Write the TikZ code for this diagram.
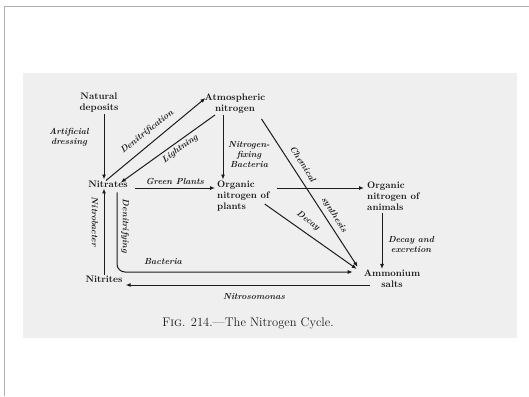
\documentclass[tikz,border=0pt]{standalone}
\usetikzlibrary{arrows.meta,calc}
\definecolor{ink}{RGB}{28,28,28}
\definecolor{panel}{RGB}{239,239,239}
\definecolor{framecol}{RGB}{176,176,176}
\tikzset{
  lab/.style={font=\fontsize{9.5}{11}\selectfont\bfseries, text=ink, inner sep=1pt, align=center},
  labl/.style={lab, align=left},
  note/.style={font=\fontsize{8.8}{10}\selectfont\bfseries\itshape, text=ink, inner sep=1pt, align=center},
  arr/.style={draw=ink, line width=1pt, -{Latex[length=5pt,width=4pt]}},
  capt/.style={font=\fontsize{12.5}{14}\selectfont, text=ink, inner sep=1pt},
}
\begin{document}
\begin{tikzpicture}[x=1pt,y=-1pt]
\useasboundingbox (0,0) rectangle (529,396);
\draw[framecol, line width=1pt] (4.5,396) -- (4.5,6.5) -- (529,6.5);
\fill[panel] (23,73) rectangle (517,338);

% nodes
\node[lab] (nat) at (99,103) {Natural\\deposits};
\node[lab] (atm) at (235,104) {Atmospheric\\nitrogen};
\node[lab] (nitrates) at (108,184) {Nitrates};
\node[labl, anchor=west] (plants) at (216,196) {Organic\\nitrogen of\\plants};
\node[labl, anchor=west] (animals) at (366,196) {Organic\\nitrogen of\\animals};
\node[lab] (ammonium) at (392,279) {Ammonium\\salts};
\node[lab] (nitrites) at (104,279) {Nitrites};
\node[capt] (caption) at (248,323) {F\textsc{ig}. 214.---The Nitrogen Cycle.};

% connectors
\draw[arr] (nat.south -| nitrites.north) -- (nitrates.north -| nitrites.north);
\node[note] at (69,137) {Artificial\\dressing};

\draw[arr] ($(nitrates.north)+(-2,1)$) -- ($(atm.west)+(2,-6)$);
\node[note, rotate=38.6] at (147,132) {Denitrification};
\draw[arr] ($(atm.south)+(-20,0)$) -- ($(nitrates.north east)+(-8,3)$);
\node[note, rotate=36] at (180,149) {Lightning};

\draw[arr] ($(atm.south)+(-12,0)$) -- ($(plants.north west)+(7,0)$);
\node[note] at (249,155) {Nitrogen-\\fixing\\Bacteria};

\draw[arr] ($(nitrates.east)+(6,4)$) -- node[note, above=2pt] {Green Plants} ($(plants.west)+(-1,-8)$);
\draw[arr] ($(plants.east)+(6,-8)$) -- ($(animals.west)+(-2,-8)$);

\draw[arr] ($(atm.south east)+(-5,4)$) -- ($(ammonium.north west)+(-5,-2)$);
\node[note, rotate=-57.5] at (303,164) {Chemical};
\node[note, rotate=-57.5] at (334,215) {synthesis};
\draw[arr] ($(plants.east)+(-6,8)$) -- ($(ammonium.north west)+(-6,0)$);
\node[note, rotate=-36.5] at (308,221) {Decay};

\draw[arr] ($(animals.south west)+(16,1)$) -- ($(ammonium.north)+(-10,0)$);
\node[note] at (411,244) {Decay and\\excretion};

\draw[arr, rounded corners=8pt] ($(nitrates.south)+(9,4)$) |- ($(ammonium.west)+(-10,-7)$);
\node[note, rotate=-90] at (125,226) {Denitrifying};
\node[note] at (163,262) {Bacteria};

\draw[arr] (nitrites.north) -- (nitrites.north |- nitrates.south);
\node[note, rotate=-90] at (95,222) {Nitrobacter};

\draw[arr] ($(ammonium.west)+(7,6)$) -- ($(nitrites.east)+(2,6)$);
\node[note] at (254,297) {Nitrosomonas};
\end{tikzpicture}
\end{document}
